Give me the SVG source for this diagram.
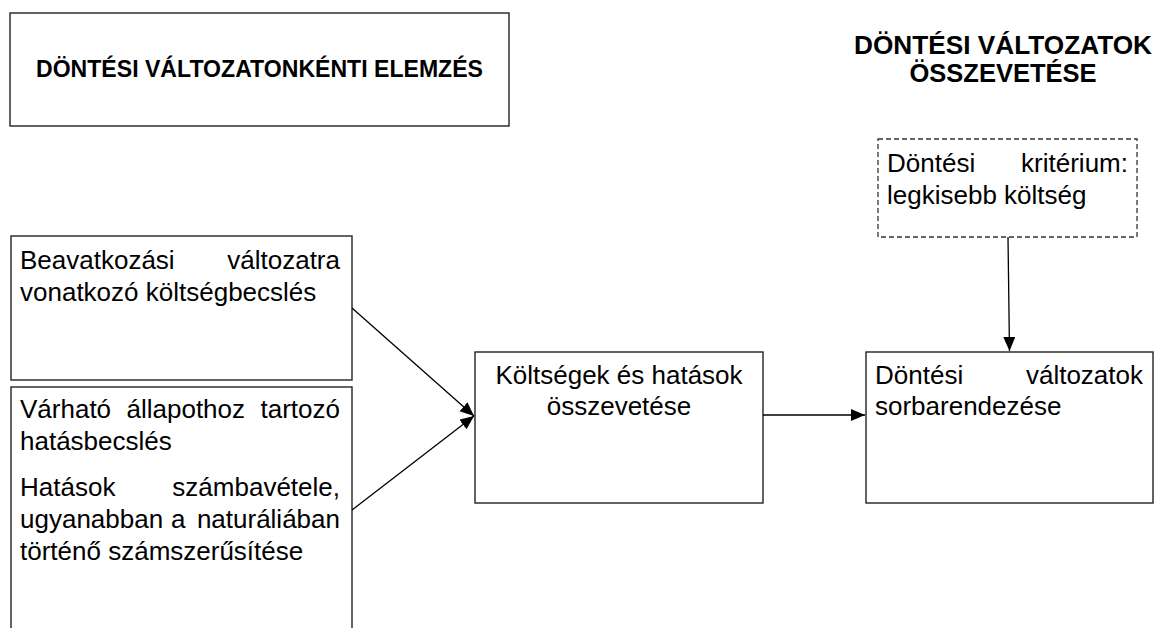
<svg xmlns="http://www.w3.org/2000/svg" width="1162" height="628" viewBox="0 0 1162 628">
<style>
.box{fill:#fff;stroke:#222;stroke-width:1.4}
.dash{fill:#fff;stroke:#333;stroke-width:1.3;stroke-dasharray:5,3}
.t{font-family:"Liberation Sans",Arial,sans-serif;font-size:26px;fill:#000}
.h{font-family:"Liberation Sans",Arial,sans-serif;font-weight:bold;fill:#000;text-anchor:middle}
.e{text-anchor:end}
.m{text-anchor:middle}
.c{stroke:#000;stroke-width:1.3;fill:none;marker-end:url(#ah)}
</style>
<defs>
<marker id="ah" markerUnits="userSpaceOnUse" markerWidth="16" markerHeight="14" refX="14" refY="6" orient="auto">
<path d="M0,0 L14,6 L0,12 z" fill="#000"/>
</marker>
</defs>
<rect width="1162" height="628" fill="#fff"/>
<g id="title-left">
<rect class="box" x="10" y="13" width="499" height="113"/>
<text class="h" x="259.5" y="77" font-size="23.5" textLength="447" lengthAdjust="spacingAndGlyphs">DÖNTÉSI VÁLTOZATONKÉNTI ELEMZÉS</text>
</g>
<g id="title-right">
<text class="h" x="1003" y="54" font-size="25.5" textLength="298" lengthAdjust="spacingAndGlyphs">DÖNTÉSI VÁLTOZATOK</text>
<text class="h" x="1003" y="82" font-size="25.5">ÖSSZEVETÉSE</text>
</g>
<g id="criterion">
<rect class="dash" x="878" y="139" width="259" height="98"/>
<text class="t" x="887" y="172">Döntési</text>
<text class="t e" x="1128" y="172">kritérium:</text>
<text class="t" x="887" y="204">legkisebb költség</text>
</g>
<g id="cost">
<rect class="box" x="11" y="236" width="341" height="144"/>
<text class="t" x="20" y="269">Beavatkozási</text>
<text class="t e" x="340" y="269">változatra</text>
<text class="t" x="20" y="301">vonatkozó költségbecslés</text>
</g>
<g id="impact">
<rect class="box" x="11" y="387" width="341" height="260"/>
<text class="t" x="20" y="418">Várható</text>
<text class="t" x="126.5" y="418">állapothoz</text>
<text class="t e" x="340" y="418">tartozó</text>
<text class="t" x="20" y="450">hatásbecslés</text>
<text class="t" x="20" y="496">Hatások</text>
<text class="t e" x="340" y="496">számbavétele,</text>
<text class="t" x="20" y="528">ugyanabban</text>
<text class="t" x="171" y="528">a</text>
<text class="t e" x="340" y="528">naturáliában</text>
<text class="t" x="20" y="560">történő számszerűsítése</text>
</g>
<g id="compare">
<rect class="box" x="475" y="352" width="288" height="151"/>
<text class="t m" x="619" y="384">Költségek és hatások</text>
<text class="t m" x="619" y="415">összevetése</text>
</g>
<g id="rank">
<rect class="box" x="866" y="352" width="287" height="151"/>
<text class="t" x="875" y="384">Döntési</text>
<text class="t e" x="1143" y="384">változatok</text>
<text class="t" x="875" y="415">sorbarendezése</text>
</g>
<g id="connectors">
<line class="c" x1="352" y1="308" x2="474" y2="416"/>
<line class="c" x1="352" y1="510" x2="474" y2="416"/>
<line class="c" x1="763" y1="415" x2="865" y2="415"/>
<line class="c" x1="1008" y1="237" x2="1009.5" y2="351"/>
</g>
</svg>
